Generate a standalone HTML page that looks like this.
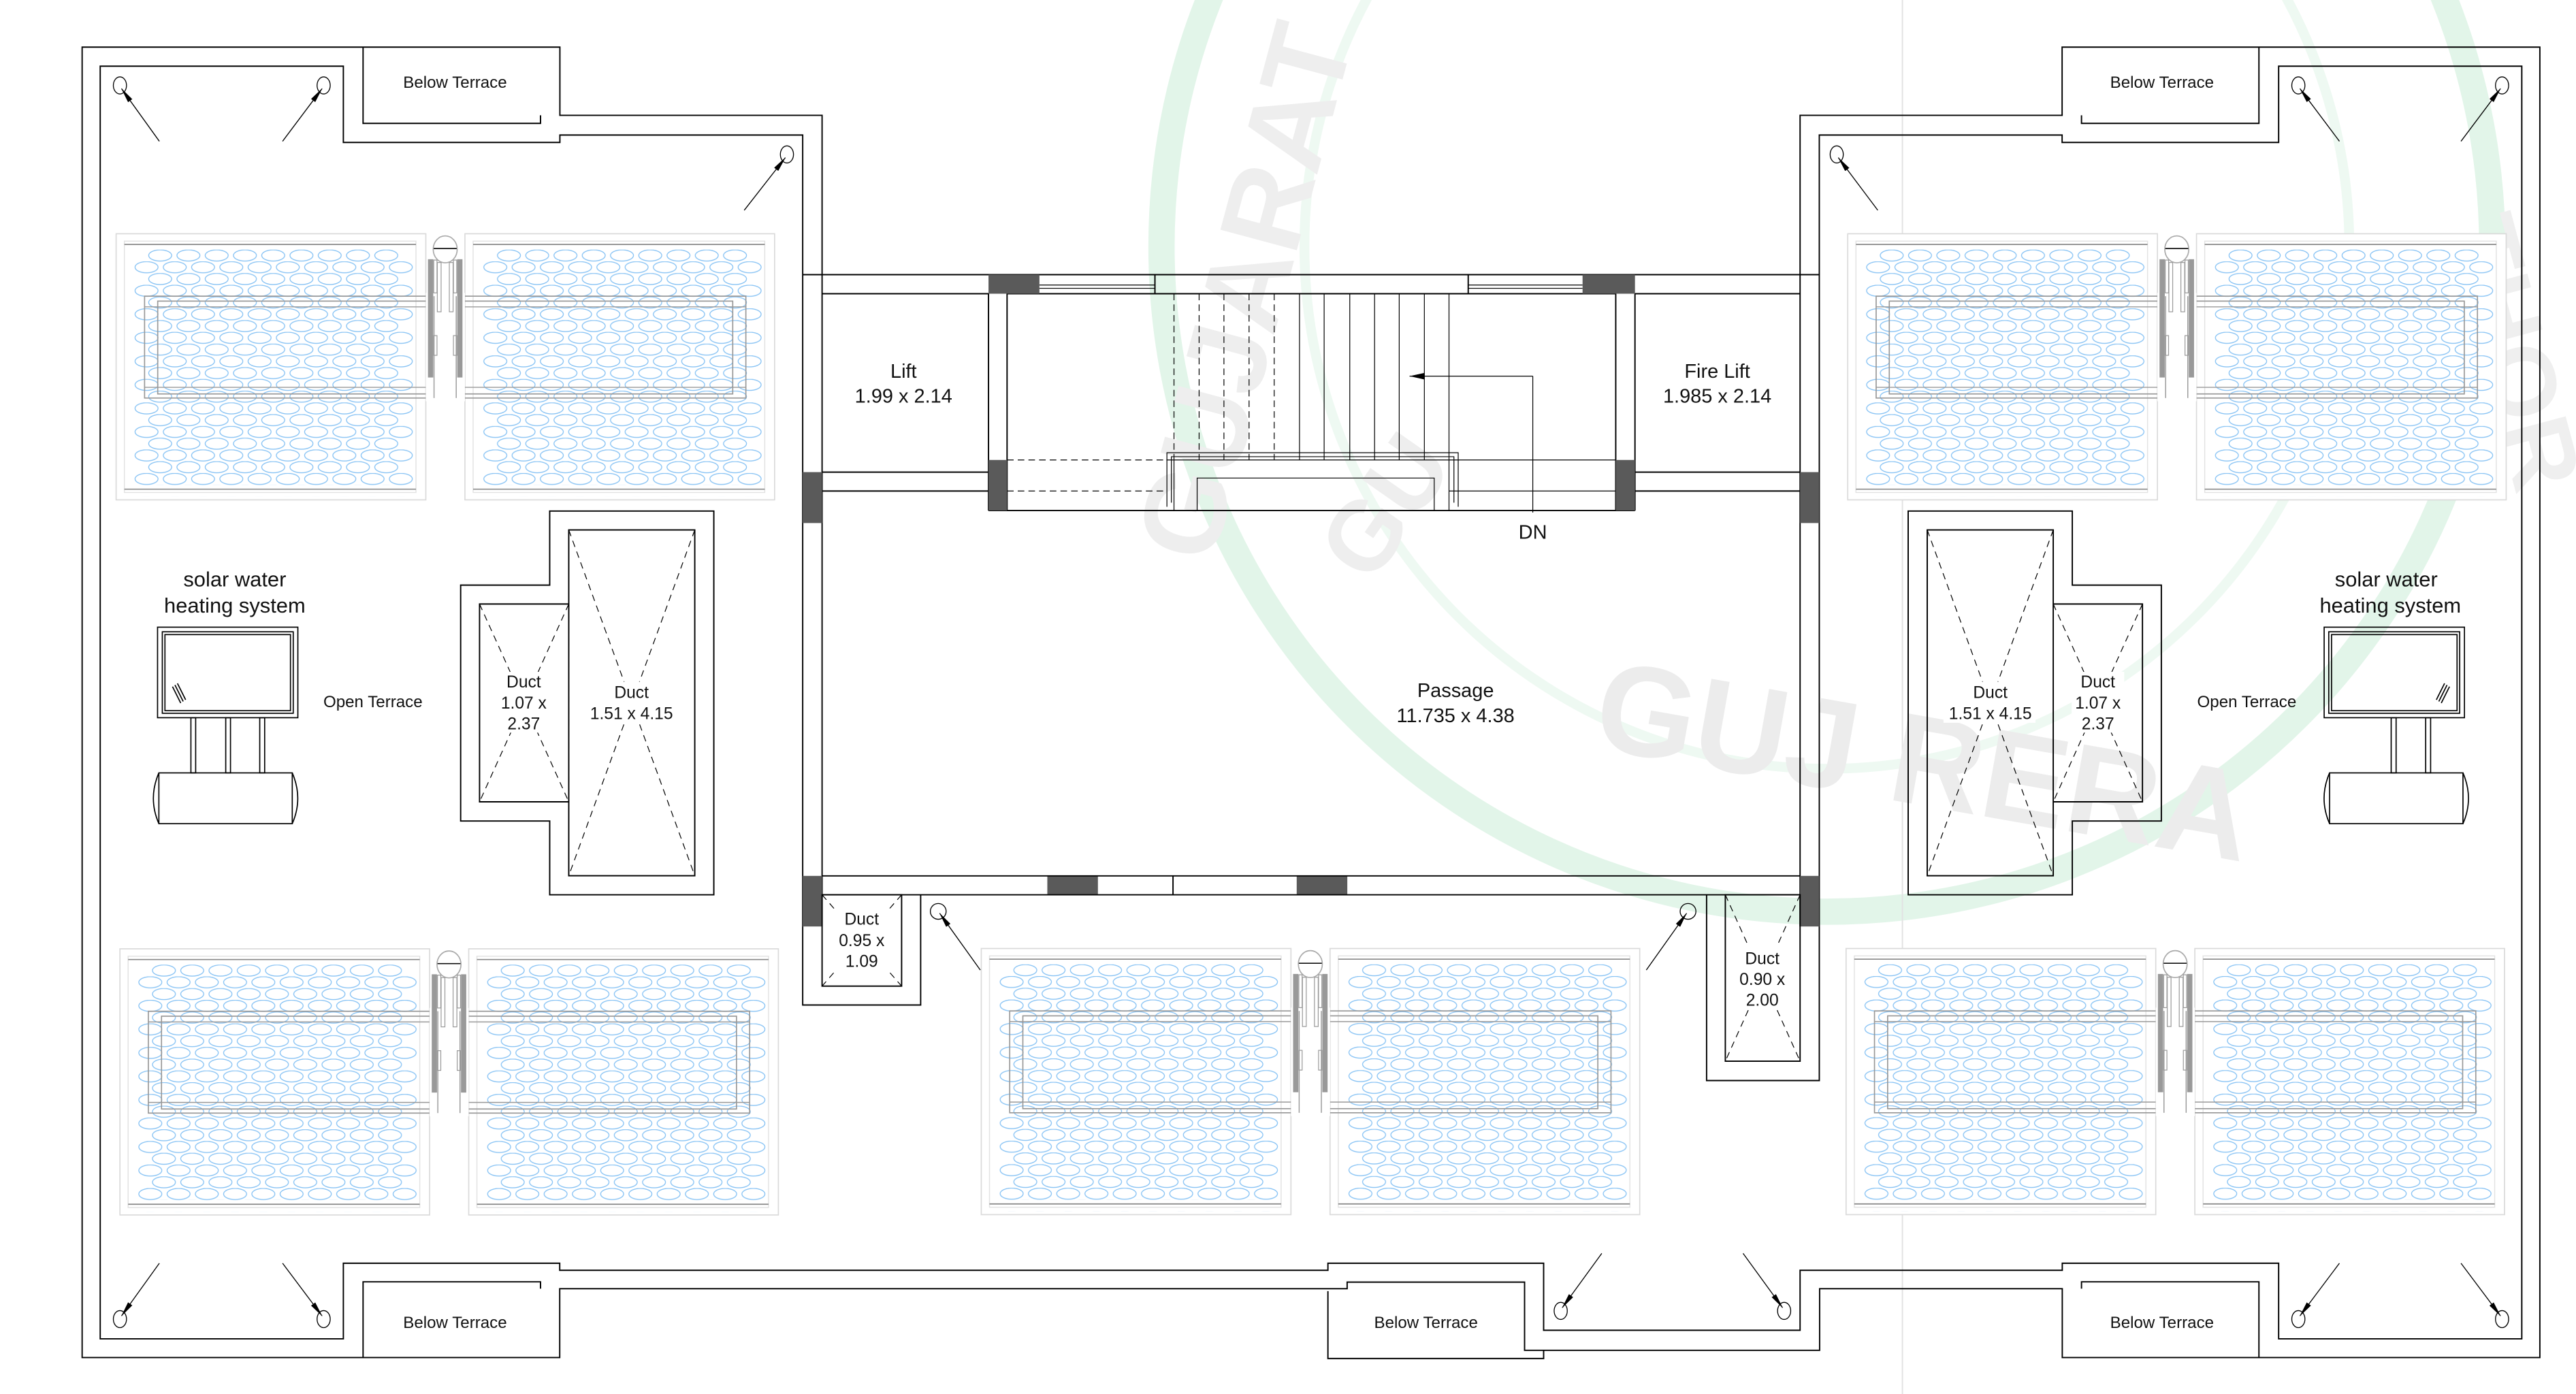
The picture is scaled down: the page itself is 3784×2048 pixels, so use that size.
<!DOCTYPE html>
<html><head><meta charset="utf-8"><style>
html,body{margin:0;padding:0;background:#fff;}
svg{display:block;}
text{font-family:"Liberation Sans",Arial,sans-serif;fill:#111;}
</style></head><body>
<svg xmlns="http://www.w3.org/2000/svg" width="3784" height="2048" viewBox="0 0 1568 848.6" preserveAspectRatio="none">
<defs>
<pattern id="pe" patternUnits="userSpaceOnUse" x="18.2" y="9.62" width="17.2" height="14.32">
<ellipse cx="8.6" cy="3.58" rx="7" ry="3.4" fill="none" stroke="#86c2f4" stroke-width="0.55"/></pattern>
<pattern id="po" patternUnits="userSpaceOnUse" x="9.9" y="16.78" width="17.2" height="14.32">
<ellipse cx="8.6" cy="3.58" rx="7" ry="3.4" fill="none" stroke="#86c2f4" stroke-width="0.55"/></pattern>
<g id="panel">
<rect x="0" y="0" width="188.5" height="162" fill="#fff" stroke="#dadada" stroke-width="0.7"/>
<rect x="5" y="4.5" width="177.5" height="153" fill="none" stroke="#e2e2e2" stroke-width="0.6"/>
<line x1="5" y1="6.5" x2="182.5" y2="6.5" stroke="#888" stroke-width="0.7"/>
<line x1="5" y1="155.5" x2="182.5" y2="155.5" stroke="#888" stroke-width="0.7"/>
<rect x="18.2" y="9.62" width="154.8" height="143.2" fill="url(#pe)"/>
<rect x="9.9" y="16.78" width="172" height="143.2" fill="url(#po)"/>
</g>
<g id="grp">
<use href="#panel"/>
<use href="#panel" x="212.3"/>
<rect x="17.3" y="38" width="366" height="62" fill="none" stroke="#999" stroke-width="0.7"/>
<rect x="25.3" y="41" width="350" height="56.5" fill="none" stroke="#999" stroke-width="0.7"/>
<line x1="17.3" y1="44.5" x2="383.3" y2="44.5" stroke="#999" stroke-width="0.6"/>
<line x1="17.3" y1="93.5" x2="383.3" y2="93.5" stroke="#999" stroke-width="0.6"/>
<rect x="188.5" y="36" width="23.8" height="66" fill="#fff"/>
<line x1="193.5" y1="38" x2="193.5" y2="100" stroke="#999" stroke-width="0.6"/>
<line x1="207" y1="38" x2="207" y2="100" stroke="#999" stroke-width="0.6"/>
<ellipse cx="200.3" cy="9.5" rx="7.3" ry="8.2" fill="#fff" stroke="#aaa" stroke-width="0.7"/>
<line x1="193.3" y1="9" x2="207.3" y2="9" stroke="#111" stroke-width="0.7"/>
<rect x="189.8" y="15.5" width="3.2" height="72" fill="#999"/>
<rect x="207.6" y="15.5" width="3.2" height="72" fill="#999"/>
<rect x="195.5" y="17.5" width="2.3" height="30" fill="none" stroke="#999" stroke-width="0.5"/>
<rect x="202.8" y="17.5" width="2.3" height="30" fill="none" stroke="#999" stroke-width="0.5"/>
<rect x="193.3" y="16" width="2" height="20" fill="none" stroke="#999" stroke-width="0.5"/>
<rect x="205.3" y="16" width="2" height="20" fill="none" stroke="#999" stroke-width="0.5"/>
<rect x="193.3" y="62" width="2" height="12" fill="none" stroke="#999" stroke-width="0.5"/>
<rect x="205.3" y="62" width="2" height="12" fill="none" stroke="#999" stroke-width="0.5"/>
</g>
<marker id="ah" markerUnits="userSpaceOnUse" markerWidth="10" markerHeight="4" refX="9" refY="1.6" orient="auto">
<path d="M0,0 L9.5,1.6 L0,3.2 Z" fill="#000"/></marker>
<marker id="ah2" markerUnits="userSpaceOnUse" markerWidth="10" markerHeight="5" refX="9" refY="2" orient="auto">
<path d="M0,0 L9,2 L0,4 Z" fill="#000"/></marker>
</defs>

<!-- watermark -->
<g opacity="1">
<circle cx="1112" cy="150" r="405" fill="none" stroke="#e2f5e9" stroke-width="16"/>
<circle cx="1112" cy="150" r="318" fill="none" stroke="#eef9f2" stroke-width="6"/>
<line x1="1158" y1="0" x2="1158" y2="849" stroke="#e2e2e2" stroke-width="0.8"/>
<text x="1170" y="490" font-size="78" font-weight="bold" transform="rotate(10 1170 470)" text-anchor="middle" style="fill:#ececec">GUJ RERA</text>
<text x="790" y="150" font-size="70" font-weight="bold" transform="rotate(-75 790 150)" text-anchor="middle" style="fill:#eeeeee">GUJARAT R</text>
<text x="860" y="320" font-size="60" font-weight="bold" transform="rotate(-55 860 320)" text-anchor="middle" style="fill:#eeeeee">GU</text>
<text x="1510" y="220" font-size="60" font-weight="bold" transform="rotate(75 1510 220)" text-anchor="middle" style="fill:#efefef">THOR</text>
</g>

<!-- solar groups -->
<use href="#grp" x="70.7" y="142.3"/>
<use href="#grp" x="1124.7" y="142.3"/>
<use href="#grp" x="73" y="577.6"/>
<use href="#grp" x="597.3" y="577.4"/>
<use href="#grp" x="1123.7" y="577.4"/>

<g fill="none" stroke="#000" stroke-width="0.8">
<!-- outer & inner outlines -->
<path d="M500.4,167.2 V70.2 H340.8 V28.7 H50 V826.4 H340.7 V784.5 H820 V780.5 H928 V822 H1107.6 V784.5 H1255.3 V826.4 H1546 V28.7 H1255.2 V70.2 H1095.7 V167.2"/>
<path d="M488.6,167.2 V82.2 H340.8 V86.7 H209 V40.3 H61 V815 H209 V769 H340.7 V773.3 H808.3 V769 H939.6 V809.8 H1095.7 V773.3 H1255.3 V769 H1387 V815 H1535 V40.3 H1387 V86.7 H1255.2 V82.2 H1107.4 V167.2"/>
<!-- below terrace boxes -->
<path d="M221,28.7 V75.1 H329 V70.2"/>
<path d="M1375,28.7 V75.1 H1267 V70.2"/>
<path d="M221,826.4 V780.3 H329 V784.5"/>
<path d="M1375,826.4 V780.3 H1267 V784.5"/>
<path d="M808.3,786 V827 H939.6 V822"/>

<!-- core -->
<line x1="488.6" y1="167.2" x2="1107.4" y2="167.2"/>
<line x1="488.6" y1="167.2" x2="488.6" y2="564"/>
<line x1="500.4" y1="167.2" x2="500.4" y2="564"/>
<line x1="1095.7" y1="167.2" x2="1095.7" y2="564"/>
<line x1="1107.4" y1="167.2" x2="1107.4" y2="564"/>
<line x1="500.4" y1="178.8" x2="601.7" y2="178.8"/>
<line x1="995.2" y1="178.8" x2="1095.7" y2="178.8"/>
<line x1="613" y1="178.8" x2="983.5" y2="178.8"/>
<line x1="500.4" y1="287.4" x2="601.7" y2="287.4"/>
<line x1="500.4" y1="298.9" x2="601.7" y2="298.9"/>
<line x1="995.2" y1="287.4" x2="1095.7" y2="287.4"/>
<line x1="995.2" y1="298.9" x2="1095.7" y2="298.9"/>
<line x1="601.7" y1="178.8" x2="601.7" y2="310.8"/>
<line x1="613" y1="178.8" x2="613" y2="310.8"/>
<line x1="983.5" y1="178.8" x2="983.5" y2="310.8"/>
<line x1="995.2" y1="178.8" x2="995.2" y2="310.8"/>
<line x1="601.7" y1="310.8" x2="995.2" y2="310.8"/>
<line x1="703" y1="167.2" x2="703" y2="178.8"/>
<line x1="893.7" y1="167.2" x2="893.7" y2="178.8"/>
</g>
<g fill="none" stroke="#000" stroke-width="0.5">
<line x1="632.7" y1="173.5" x2="703" y2="173.5"/><line x1="632.7" y1="175.5" x2="703" y2="175.5"/>
<line x1="893.7" y1="173.5" x2="963.3" y2="173.5"/><line x1="893.7" y1="175.5" x2="963.3" y2="175.5"/>
<g stroke-dasharray="4,2.5">
<line x1="714.6" y1="178.8" x2="714.6" y2="280"/><line x1="729.9" y1="178.8" x2="729.9" y2="280"/>
<line x1="745" y1="178.8" x2="745" y2="280"/><line x1="760.3" y1="178.8" x2="760.3" y2="280"/>
<line x1="775.6" y1="178.8" x2="775.6" y2="280"/>
<line x1="613" y1="280" x2="710" y2="280"/><line x1="613" y1="298.9" x2="710" y2="298.9"/>
</g>
<line x1="791" y1="178.8" x2="791" y2="280"/><line x1="806" y1="178.8" x2="806" y2="280"/>
<line x1="821.6" y1="178.8" x2="821.6" y2="280"/><line x1="836.7" y1="178.8" x2="836.7" y2="280"/>
<line x1="851.7" y1="178.8" x2="851.7" y2="280"/><line x1="867" y1="178.8" x2="867" y2="280"/>
<line x1="882" y1="178.8" x2="882" y2="280"/>
<line x1="710" y1="280" x2="983.5" y2="280"/>
<line x1="882" y1="298.9" x2="983.5" y2="298.9"/>
<path d="M710.3,308.5 V275.6 H887.6 V308.5"/>
<path d="M713,306 V278 H885 V306"/>
<path d="M728.7,310.8 V291 H873 V310.8"/>
<line x1="714.6" y1="280" x2="714.6" y2="310.8"/>
<line x1="882" y1="280" x2="882" y2="310.8"/>
<line x1="933" y1="229" x2="933" y2="312"/>
<line x1="933" y1="229" x2="858" y2="229" marker-end="url(#ah2)"/>
</g>
<g fill="#5a5a5a">
<rect x="601.7" y="167.2" width="31" height="11.6"/>
<rect x="963.3" y="167.2" width="31.9" height="11.6"/>
<rect x="601.7" y="280" width="11.3" height="30.8"/>
<rect x="983.5" y="280" width="11.7" height="30.8"/>
<rect x="488.6" y="287.4" width="11.8" height="31"/>
<rect x="1095.7" y="287.4" width="11.7" height="31"/>
<rect x="488.6" y="533.2" width="11.8" height="30.8"/>
<rect x="1095.7" y="533.2" width="11.7" height="30.8"/>
<rect x="637.5" y="533.2" width="30.8" height="11.5"/>
<rect x="789.3" y="533.2" width="30.8" height="11.5"/>
</g>
<g fill="none" stroke="#000" stroke-width="0.8">
<line x1="500.4" y1="533.2" x2="1095.7" y2="533.2"/>
<line x1="500.4" y1="544.7" x2="1095.7" y2="544.7"/>
<line x1="714" y1="533.2" x2="714" y2="544.7"/>
<!-- small ducts by core -->
<path d="M488.6,564 V611.8 H560.4 V544.7"/>
<rect x="500.4" y="544.7" width="48.4" height="55.6"/>
<path d="M1038.8,544.7 V657.8 H1107.4 V564"/>
<rect x="1050.2" y="544.7" width="45.5" height="101.3"/>
<!-- left ducts -->
<path d="M334.6,311.1 H434.5 V544.7 H334.6 V499.8 H280.4 V356.2 H334.6 Z"/>
<rect x="346.2" y="322.6" width="76.7" height="210.5"/>
<path d="M346.2,367.7 H291.9 V488.1 H346.2"/>
<!-- right ducts -->
<path d="M1261.4,311.1 H1161.5 V544.7 H1261.4 V499.8 H1315.6 V356.2 H1261.4 Z"/>
<rect x="1173.1" y="322.6" width="76.7" height="210.5"/>
<path d="M1249.8,367.7 H1304.1 V488.1 H1249.8"/>
</g>
<g fill="none" stroke="#000" stroke-width="0.5" stroke-dasharray="4,3">
<line x1="500.4" y1="544.7" x2="548.8" y2="600.3"/><line x1="548.8" y1="544.7" x2="500.4" y2="600.3"/>
<line x1="1050.2" y1="544.7" x2="1095.7" y2="646"/><line x1="1095.7" y1="544.7" x2="1050.2" y2="646"/>
<line x1="346.2" y1="322.6" x2="422.9" y2="533.1"/><line x1="422.9" y1="322.6" x2="346.2" y2="533.1"/>
<line x1="291.9" y1="367.7" x2="346.2" y2="488.1"/><line x1="346.2" y1="367.7" x2="291.9" y2="488.1"/>
<line x1="346.2" y1="367.7" x2="346.2" y2="488.1"/>
<line x1="1173.1" y1="322.6" x2="1249.8" y2="533.1"/><line x1="1249.8" y1="322.6" x2="1173.1" y2="533.1"/>
<line x1="1249.8" y1="367.7" x2="1304.1" y2="488.1"/><line x1="1304.1" y1="367.7" x2="1249.8" y2="488.1"/>
<line x1="1249.8" y1="367.7" x2="1249.8" y2="488.1"/>
</g>
<!-- cover for text backgrounds in ducts -->
<g fill="#fff">
<rect x="303" y="409" width="32" height="37"/><rect x="357" y="415" width="56" height="25"/>
<rect x="1183" y="415" width="56" height="25"/><rect x="1261" y="409" width="32" height="37"/>
<rect x="508" y="553" width="34" height="38"/><rect x="1056" y="576" width="34" height="38"/>
</g>

<!-- solar water heaters -->
<g fill="none" stroke="#000" stroke-width="0.7">
<rect x="95.9" y="381.8" width="85.4" height="55.1"/>
<rect x="98.8" y="384.6" width="79.7" height="49.6"/>
<rect x="100.4" y="386.3" width="76.4" height="46.3"/>
<line x1="105" y1="418" x2="110" y2="428"/><line x1="106.5" y1="417" x2="111.5" y2="427"/><line x1="108" y1="416" x2="113" y2="426"/>
<rect x="116.2" y="436.9" width="2.9" height="33.6"/>
<rect x="137.4" y="436.9" width="2.9" height="33.6"/>
<rect x="158.1" y="436.9" width="3" height="33.6"/>
<rect x="96.7" y="470.5" width="81.2" height="30.9"/>
<path d="M96.7,470.5 Q90,486 96.7,501.4"/><path d="M177.9,470.5 Q184.6,486 177.9,501.4"/>

<rect x="1414.7" y="381.8" width="85.4" height="55.1"/>
<rect x="1417.5" y="384.6" width="79.7" height="49.6"/>
<rect x="1419.2" y="386.3" width="76.4" height="46.3"/>
<line x1="1491" y1="418" x2="1486" y2="428"/><line x1="1489.5" y1="417" x2="1484.5" y2="427"/><line x1="1488" y1="416" x2="1483" y2="426"/>
<rect x="1455.5" y="436.9" width="3" height="33.6"/>
<rect x="1476.5" y="436.9" width="3" height="33.6"/>
<rect x="1418" y="470.5" width="81.2" height="30.9"/>
<path d="M1418,470.5 Q1411.3,486 1418,501.4"/><path d="M1499.2,470.5 Q1505.9,486 1499.2,501.4"/>
</g>

<!-- drains -->
<g fill="none" stroke="#000" stroke-width="0.55">
<ellipse cx="73" cy="52" rx="4" ry="5.2"/><line x1="97" y1="86" x2="74" y2="54" marker-end="url(#ah)"/>
<ellipse cx="197" cy="52" rx="4" ry="5.2"/><line x1="172" y1="86" x2="196" y2="54" marker-end="url(#ah)"/>
<ellipse cx="479" cy="94" rx="4" ry="5.2"/><line x1="453" y1="128" x2="478" y2="96" marker-end="url(#ah)"/>
<ellipse cx="1399" cy="52" rx="4" ry="5.2"/><line x1="1424" y1="86" x2="1400" y2="54" marker-end="url(#ah)"/>
<ellipse cx="1523" cy="52" rx="4" ry="5.2"/><line x1="1498" y1="86" x2="1522" y2="54" marker-end="url(#ah)"/>
<ellipse cx="1118" cy="94" rx="4" ry="5.2"/><line x1="1143" y1="128" x2="1119" y2="96" marker-end="url(#ah)"/>
<ellipse cx="73" cy="803" rx="4" ry="5.2"/><line x1="97" y1="769" x2="74" y2="801" marker-end="url(#ah)"/>
<ellipse cx="197" cy="803" rx="4" ry="5.2"/><line x1="172" y1="769" x2="196" y2="801" marker-end="url(#ah)"/>
<ellipse cx="950" cy="798" rx="4" ry="5.2"/><line x1="975" y1="763" x2="951" y2="796" marker-end="url(#ah)"/>
<ellipse cx="1086" cy="798" rx="4" ry="5.2"/><line x1="1061" y1="763" x2="1085" y2="796" marker-end="url(#ah)"/>
<ellipse cx="1399" cy="803" rx="4" ry="5.2"/><line x1="1424" y1="769" x2="1400" y2="801" marker-end="url(#ah)"/>
<ellipse cx="1523" cy="803" rx="4" ry="5.2"/><line x1="1498" y1="769" x2="1522" y2="801" marker-end="url(#ah)"/>
<ellipse cx="571.1" cy="554.8" rx="4.8" ry="4.8"/><line x1="596.7" y1="590.5" x2="572" y2="556" marker-end="url(#ah)"/>
<ellipse cx="1027.5" cy="554.8" rx="4.8" ry="4.8"/><line x1="1002.1" y1="590.5" x2="1026.6" y2="556" marker-end="url(#ah)"/>
</g>

<!-- labels -->
<g text-anchor="middle">
<text x="277" y="53.5" font-size="10">Below Terrace</text>
<text x="1316" y="53.5" font-size="10">Below Terrace</text>
<text x="277" y="808.5" font-size="10">Below Terrace</text>
<text x="1316" y="808.5" font-size="10">Below Terrace</text>
<text x="868" y="808.5" font-size="10">Below Terrace</text>
<text x="550" y="230" font-size="12">Lift</text>
<text x="550" y="245" font-size="12">1.99 x 2.14</text>
<text x="1045.3" y="230" font-size="12">Fire Lift</text>
<text x="1045.3" y="245" font-size="12">1.985 x 2.14</text>
<text x="933" y="328" font-size="12">DN</text>
<text x="886" y="424.4" font-size="12">Passage</text>
<text x="886" y="439.6" font-size="12">11.735 x 4.38</text>
<text x="318.8" y="418.5" font-size="10.2">Duct</text>
<text x="318.8" y="431.3" font-size="10.2">1.07 x</text>
<text x="318.8" y="444" font-size="10.2">2.37</text>
<text x="384.4" y="425" font-size="10.2">Duct</text>
<text x="384.4" y="437.8" font-size="10.2">1.51 x 4.15</text>
<text x="1211.5" y="425" font-size="10.2">Duct</text>
<text x="1211.5" y="437.8" font-size="10.2">1.51 x 4.15</text>
<text x="1277" y="418.5" font-size="10.2">Duct</text>
<text x="1277" y="431.3" font-size="10.2">1.07 x</text>
<text x="1277" y="444" font-size="10.2">2.37</text>
<text x="524.5" y="563" font-size="10.2">Duct</text>
<text x="524.5" y="576" font-size="10.2">0.95 x</text>
<text x="524.5" y="588.6" font-size="10.2">1.09</text>
<text x="1072.7" y="587" font-size="10.2">Duct</text>
<text x="1072.7" y="599.6" font-size="10.2">0.90 x</text>
<text x="1072.7" y="612.2" font-size="10.2">2.00</text>
<text x="142.9" y="357" font-size="12.8">solar water</text>
<text x="142.9" y="373" font-size="12.8">heating system</text>
<text x="1452.5" y="357" font-size="12.8">solar water</text>
<text x="1455" y="373" font-size="12.8">heating system</text>
<text x="227" y="430.5" font-size="10">Open Terrace</text>
<text x="1367.6" y="430.5" font-size="10">Open Terrace</text>
</g>
</svg>
</body></html>
